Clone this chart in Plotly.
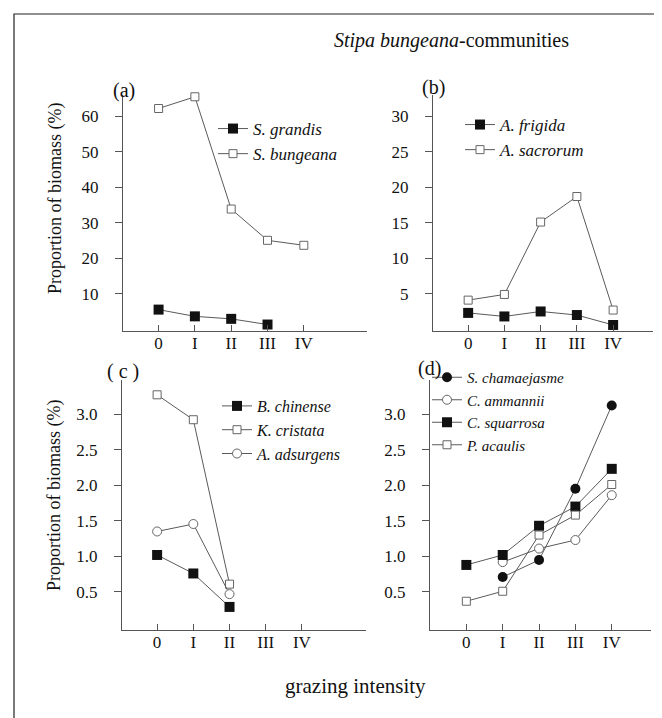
import plotly.graph_objects as go

W, H = 662, 718
FONT = "Liberation Serif, Times New Roman, serif"

grazing = ["0", "I", "II", "III", "IV"]

# panel (a)
s_grandis = [5.6, 3.7, 3.0, 1.4, None]
s_bungeana = [62.2, 65.5, 33.9, 25.1, 23.7]
# panel (b)
a_frigida = [2.3, 1.8, 2.5, 2.0, 0.6]
a_sacrorum = [4.1, 4.9, 15.1, 18.7, 2.7]
# panel (c)
b_chinense = [1.02, 0.76, 0.29, None, None]
k_cristata = [3.27, 2.92, 0.61, None, None]
a_adsurgens = [1.35, 1.455, 0.47, None, None]
# panel (d)
s_chamaejasme = [None, 0.71, 0.95, 1.95, 3.12]
c_ammannii = [None, 0.92, 1.11, 1.23, 1.86]
c_squarrosa = [0.88, 1.02, 1.43, 1.70, 2.23]
p_acaulis = [0.37, 0.51, 1.30, 1.58, 2.01]

ticks_a = [10, 20, 30, 40, 50, 60]
ticks_b = [5, 10, 15, 20, 25, 30]
ticks_cd = [0.5, 1.0, 1.5, 2.0, 2.5, 3.0]

LINE = "#5a5a5a"
AX = "#555555"


def px(x):
    return x / W


def py(y):
    return 1 - y / H


fig = go.Figure()

styles = {
    "fsq": dict(symbol="square", size=10, color="#111111", line=dict(width=0)),
    "osq": dict(symbol="square", size=8, color="white", line=dict(width=1, color="#666666")),
    "fci": dict(symbol="circle", size=10, color="#111111", line=dict(width=0)),
    "oci": dict(symbol="circle", size=9, color="white", line=dict(width=1, color="#666666")),
}


def add(name, vals, style, xa, ya, legend):
    fig.add_trace(go.Scatter(
        x=grazing, y=vals, name="<i>%s</i>" % name, mode="lines+markers",
        line=dict(color=LINE, width=1), marker=styles[style],
        xaxis=xa, yaxis=ya, legend=legend, connectgaps=False, cliponaxis=False,
    ))


add("S. grandis", s_grandis, "fsq", "x", "y", "legend")
add("S. bungeana", s_bungeana, "osq", "x", "y", "legend")
add("A. frigida", a_frigida, "fsq", "x2", "y2", "legend2")
add("A. sacrorum", a_sacrorum, "osq", "x2", "y2", "legend2")
add("B. chinense", b_chinense, "fsq", "x3", "y3", "legend3")
add("K. cristata", k_cristata, "osq", "x3", "y3", "legend3")
add("A. adsurgens", a_adsurgens, "oci", "x3", "y3", "legend3")
add("S. chamaejasme", s_chamaejasme, "fci", "x4", "y4", "legend4")
add("C. ammannii", c_ammannii, "oci", "x4", "y4", "legend4")
add("C. squarrosa", c_squarrosa, "fsq", "x4", "y4", "legend4")
add("P. acaulis", p_acaulis, "osq", "x4", "y4", "legend4")

tickfont = dict(family=FONT, size=17, color="#111111")


def xaxis(x0, x1, rng, ya):
    return dict(
        domain=[px(x0), px(x1)], anchor=ya, type="category", categoryarray=grazing,
        range=rng, showline=True, linecolor=AX, linewidth=1, ticks="inside",
        ticklen=6, tickcolor=AX, showgrid=False, zeroline=False,
        tickfont=tickfont, ticklabelstandoff=-3, fixedrange=True,
    )


def yaxis(y0, y1, rng, tv, xa, fmt):
    return dict(
        domain=[py(y1), py(y0)], anchor=xa, range=rng, tickvals=tv,
        tickformat=fmt, showline=True, linecolor=AX, linewidth=1,
        ticks="outside", ticklen=7, tickcolor=AX, showgrid=False,
        zeroline=False, tickfont=tickfont, ticklabelstandoff=13, fixedrange=True,
    )


def leg(x, y, fs=17):
    return dict(x=px(x), y=py(y), xanchor="left", yanchor="top",
                bgcolor="rgba(0,0,0,0)", font=dict(family=FONT, size=fs, color="#111111"),
                itemsizing="trace", tracegroupgap=0)


fig.update_layout(
    width=W, height=H, autosize=False,
    margin=dict(l=0, r=0, t=0, b=0),
    paper_bgcolor="white", plot_bgcolor="white",
    showlegend=True,
    xaxis=xaxis(115, 359, [-0.98, 5.74], "y"),
    yaxis=yaxis(87, 323, [-0.42, 66.0], ticks_a, "x", "d"),
    xaxis2=xaxis(425, 645, [-0.97, 5.10], "y2"),
    yaxis2=yaxis(87, 323, [-0.25, 33.0], ticks_b, "x2", "d"),
    xaxis3=xaxis(114, 358, [-0.97, 5.77], "y3"),
    yaxis3=yaxis(372, 621.5, [-0.027, 3.478], ticks_cd, "x3", ".1f"),
    xaxis4=xaxis(422, 643, [-1.0, 5.08], "y4"),
    yaxis4=yaxis(372, 621.5, [-0.027, 3.478], ticks_cd, "x4", ".1f"),
    legend=leg(205, 103),
    legend2=leg(452, 99),
    legend3=leg(209, 381, 16),
    legend4=leg(419, 353, 15),
)

annots = [
    dict(text="<i>Stipa bungeana</i>-communities", x=px(443), y=py(33), size=20),
    dict(text="(a)", x=px(116), y=py(82), size=20),
    dict(text="(b)", x=px(425), y=py(80), size=20),
    dict(text="( c )", x=px(115), y=py(363), size=20),
    dict(text="(d)", x=px(421), y=py(361), size=20),
    dict(text="grazing intensity", x=px(347), y=py(678), size=21),
]
for a in annots:
    fig.add_annotation(text=a["text"], x=a["x"], y=a["y"], xref="paper", yref="paper",
                       showarrow=False, xanchor="center", yanchor="middle",
                       font=dict(family=FONT, size=a["size"], color="#111111"))
for yc in (191, 488):
    fig.add_annotation(text="Proportion of biomass (%)", x=px(47), y=py(yc),
                       xref="paper", yref="paper", showarrow=False, textangle=-90,
                       xanchor="center", yanchor="middle",
                       font=dict(family=FONT, size=18, color="#111111"))

fig.add_shape(type="rect", xref="paper", yref="paper", x0=px(6), x1=px(659),
              y0=py(730), y1=py(6), line=dict(color="#222222", width=1.2))

fig.write_html("out.html")
